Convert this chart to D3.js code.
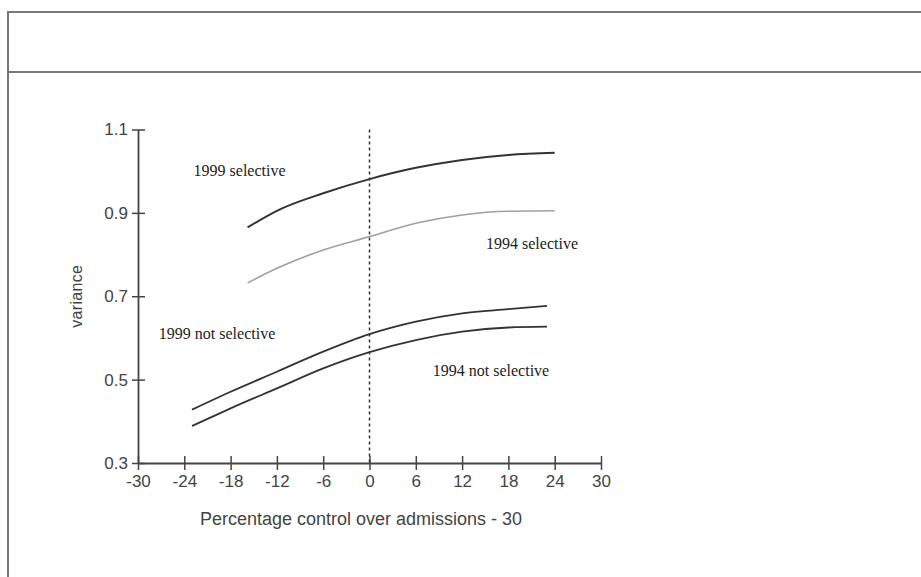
<!DOCTYPE html>
<html>
<head>
<meta charset="utf-8">
<script src="https://cdn.jsdelivr.net/npm/d3@7"></script>
<style>
  body { margin: 0; background: #fff; }
  svg { display: block; }
</style>
</head>
<body>
<div id="container"></div>
<script>
/** DATA */
const xSelective = [-15.8, -12, -6, 0, 6, 12, 18, 24];
const sel1999 = [0.865, 0.905, 0.947, 0.981, 1.008, 1.027, 1.039, 1.044];
const sel1994 = [0.732, 0.767, 0.811, 0.843, 0.875, 0.895, 0.904, 0.905];

const xNotSelective = [-23, -18, -12, -6, 0, 6, 12, 18, 23];
const not1999 = [0.428, 0.471, 0.519, 0.567, 0.609, 0.639, 0.659, 0.669, 0.677];
const not1994 = [0.389, 0.431, 0.479, 0.527, 0.566, 0.595, 0.615, 0.625, 0.627];

const xTicks = [-30, -24, -18, -12, -6, 0, 6, 12, 18, 24, 30];
const yTicks = [0.3, 0.5, 0.7, 0.9, 1.1];

const seriesNames = ["1999 selective", "1994 selective", "1999 not selective", "1994 not selective"];

/** CONSTANTS */
const width = 921,
  height = 577,
  margin = { top: 129.5, bottom: 114, left: 138, right: 320 };

const svg = d3.select("#container")
  .append("svg")
  .attr("width", width)
  .attr("height", height);

// frame lines
svg.append("path")
  .attr("d", `M8,${height} V12 H${width}`)
  .attr("fill", "none")
  .attr("stroke", "#777")
  .attr("stroke-width", 2);
svg.append("line")
  .attr("x1", 8).attr("x2", width)
  .attr("y1", 72).attr("y2", 72)
  .attr("stroke", "#777")
  .attr("stroke-width", 2);

const xScale = d3.scaleLinear()
  .domain([-30, 30])
  .range([margin.left, width - margin.right]);

const yScale = d3.scaleLinear()
  .domain([0.3, 1.1])
  .range([height - margin.bottom, margin.top]);

// axes
const xAxis = d3.axisBottom(xScale)
  .tickValues(xTicks)
  .tickFormat(d => String(d))
  .tickSizeInner(7)
  .tickSizeOuter(0)
  .tickPadding(6);

const yAxis = d3.axisLeft(yScale)
  .tickValues(yTicks)
  .tickFormat(d3.format(".1f"))
  .tickSizeInner(7)
  .tickSizeOuter(0)
  .tickPadding(4);

const xg = svg.append("g")
  .attr("transform", `translate(0, ${yScale(0.3)})`)
  .call(xAxis);

const yg = svg.append("g")
  .attr("transform", `translate(${xScale(-30)}, 0)`)
  .call(yAxis);

[xg, yg].forEach(g => {
  g.select(".domain").attr("stroke", "#444").attr("stroke-width", 1.8);
  g.selectAll(".tick line").attr("stroke", "#444").attr("stroke-width", 1.5);
  g.selectAll(".tick text")
    .attr("fill", "#444")
    .style("font-family", "'Liberation Sans', Arial, sans-serif")
    .style("font-size", "17px");
});

// ticks cross the axis
xg.selectAll(".tick line").attr("y1", -7).attr("y2", 7);
xg.selectAll(".tick text").attr("dy", "0.71em").attr("y", 12);
yg.selectAll(".tick line").attr("x1", -6).attr("x2", 7);
yg.selectAll(".tick text").attr("x", -10);

// axis titles
svg.append("text")
  .attr("x", 361)
  .attr("y", 525)
  .attr("text-anchor", "middle")
  .attr("fill", "#444")
  .style("font-family", "'Liberation Sans', Arial, sans-serif")
  .style("font-size", "18px")
  .text("Percentage control over admissions - 30");

svg.append("text")
  .attr("transform", `translate(82, ${yScale(0.7)}) rotate(-90)`)
  .attr("text-anchor", "middle")
  .attr("fill", "#444")
  .style("font-family", "'Liberation Sans', Arial, sans-serif")
  .style("font-size", "16px")
  .style("letter-spacing", "0.3px")
  .text("variance");

// reference line at 0
svg.append("line")
  .attr("x1", xScale(0)).attr("x2", xScale(0))
  .attr("y1", yScale(1.1)).attr("y2", yScale(0.3))
  .attr("stroke", "#333")
  .attr("stroke-width", 1.5)
  .attr("stroke-dasharray", "3,3");

// curves
const line = d3.line()
  .x(d => xScale(d[0]))
  .y(d => yScale(d[1]))
  .curve(d3.curveMonotoneX);

const curves = [
  { xs: xSelective, ys: sel1999, color: "#333", w: 2 },
  { xs: xSelective, ys: sel1994, color: "#a0a0a0", w: 1.6 },
  { xs: xNotSelective, ys: not1999, color: "#333", w: 1.8 },
  { xs: xNotSelective, ys: not1994, color: "#333", w: 1.8 }
];

svg.selectAll(".curve")
  .data(curves)
  .join("path")
  .attr("class", "curve")
  .attr("fill", "none")
  .attr("stroke", d => d.color)
  .attr("stroke-width", d => d.w)
  .attr("d", d => line(d.xs.map((x, i) => [x, d.ys[i]])));

// series labels (placed in data coordinates)
const labelPos = [
  [-22.8, 1.002],
  [15.1, 0.826],
  [-27.3, 0.611],
  [8.2, 0.523]
];

svg.selectAll(".series-label")
  .data(seriesNames)
  .join("text")
  .attr("class", "series-label")
  .attr("x", (d, i) => xScale(labelPos[i][0]))
  .attr("y", (d, i) => yScale(labelPos[i][1]))
  .attr("dy", "0.35em")
  .attr("fill", "#222")
  .style("font-family", "'Liberation Serif', 'Times New Roman', serif")
  .style("font-size", "16px")
  .text(d => d);
</script>
</body>
</html>
